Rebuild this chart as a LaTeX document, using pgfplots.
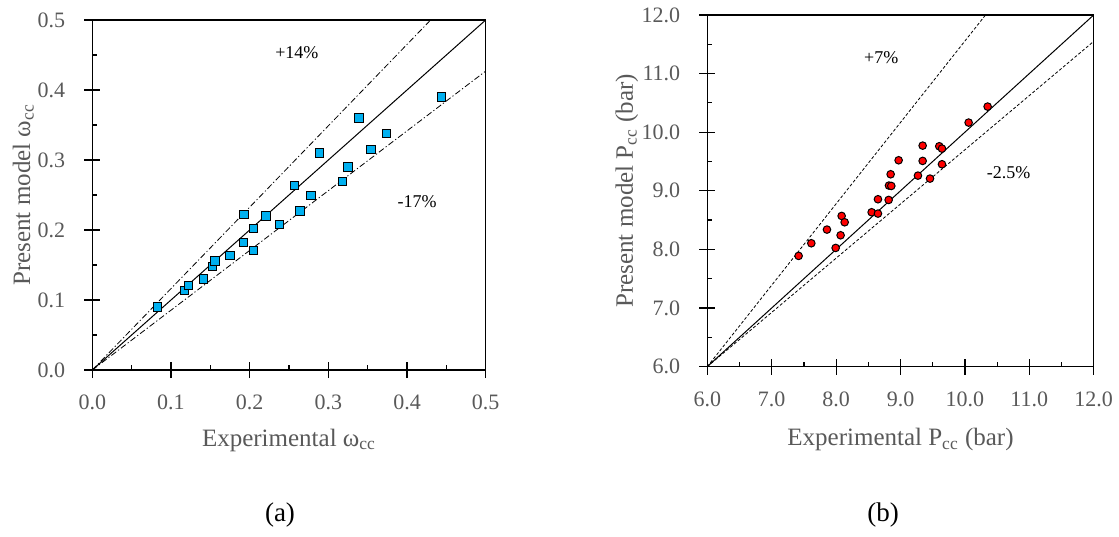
\documentclass[border=0pt]{standalone}
\usepackage{fontspec}
\setmainfont{Liberation Serif}
\usepackage{pgfplots}
\pgfplotsset{compat=1.18}
\definecolor{tickgray}{HTML}{595959}
\definecolor{sqblue}{HTML}{00B0F0}
\pgfplotsset{
  myaxis/.style={
    scale only axis,
    axis line style={line width=0.6pt},
    tick pos=left,
    tick align=center,
    major tick length=8pt,
    minor tick length=2.5pt,
    minor x tick style={yshift=1.25pt},
    minor y tick style={xshift=1.25pt},
    every tick/.style={black, line width=0.6pt},
    minor x tick num=1, minor y tick num=1,
    ticklabel style={font=\fontsize{11}{13}\selectfont, text=tickgray},
    xticklabel style={yshift=-5pt},
    yticklabel style={xshift=-6pt},
    /pgf/number format/.cd, fixed, fixed zerofill, precision=1, assume math mode=true,
    /pgfplots/.cd,
    label style={font=\fontsize{12.5}{14}\selectfont, text=tickgray},
    clip=false,
  }
}
\begin{document}
\begin{tikzpicture}
\path[use as bounding box] (0,0) rectangle (559.5pt,268pt);
% ---------------- (a)
\begin{axis}[myaxis,
  at={(46.15pt,83pt)}, anchor=south west,
  width=196.7pt, height=175pt,
  xmin=0, xmax=0.5, ymin=0, ymax=0.5,
  xtick={0,0.1,...,0.5}, ytick={0,0.1,...,0.5},
  xlabel={Experimental ω\textsubscript{cc}},
  ylabel={Present model ω\textsubscript{cc}},
  xlabel style={at={(axis description cs:0.5,-0.2)}, anchor=center},
  ylabel style={at={(axis description cs:-0.1754,0.5)}, anchor=center},
]
\addplot[black, line width=0.5pt] coordinates {(0,0) (0.5,0.5)};
\addplot[black, line width=0.4pt, dash pattern=on 3pt off 1.2pt on 0.6pt off 1.2pt] coordinates {(0,0) (0.43,0.5)};
\addplot[black, line width=0.4pt, dash pattern=on 3pt off 1.2pt on 0.6pt off 1.2pt] coordinates {(0,0) (0.5,0.427)};
\addplot[only marks, mark=square*, mark size=2.1pt, mark options={fill=sqblue, draw=black, line width=0.5pt}] coordinates {
(0.083,0.090) (0.117,0.114) (0.122,0.121) (0.141,0.130) (0.153,0.148)
(0.156,0.156) (0.175,0.164) (0.192,0.182) (0.193,0.222) (0.205,0.171)
(0.205,0.202) (0.221,0.220) (0.238,0.208) (0.257,0.264) (0.264,0.227)
(0.278,0.249) (0.289,0.310) (0.318,0.269) (0.325,0.290) (0.339,0.360)
(0.354,0.315) (0.374,0.338) (0.444,0.390)
};
\node[font=\fontsize{9}{10}\selectfont] at (axis cs:0.26,0.454) {+14\%};
\node[font=\fontsize{9}{10}\selectfont] at (axis cs:0.413,0.24) {-17\%};
\end{axis}
% ---------------- (b)
\begin{axis}[myaxis,
  at={(353.65pt,84.7pt)}, anchor=south west,
  width=193.2pt, height=175.8pt,
  xmin=6, xmax=12, ymin=6, ymax=12,
  xtick={6,7,...,12}, ytick={6,7,...,12},
  xlabel={Experimental P\textsubscript{cc} (bar)},
  ylabel={Present model P\textsubscript{cc} (bar)},
  xlabel style={at={(axis description cs:0.5,-0.208)}, anchor=center},
  ylabel style={at={(axis description cs:-0.208,0.5)}, anchor=center},
]
\addplot[black, line width=0.5pt] coordinates {(6,6) (12,12)};
\addplot[black, line width=0.4pt, dash pattern=on 1.5pt off 1pt] coordinates {(6,6) (10.32,12)};
\addplot[black, line width=0.4pt, dash pattern=on 1.5pt off 1pt] coordinates {(6,6) (12,11.55)};
\addplot[only marks, mark=*, mark size=1.9pt, mark options={fill=red, draw=black, line width=0.5pt}] coordinates {
(7.418,7.889) (7.615,8.105) (7.858,8.338) (7.993,8.025) (8.070,8.241)
(8.086,8.571) (8.133,8.463) (8.552,8.634) (8.650,8.611) (8.650,8.856)
(8.816,8.844) (8.821,9.089) (8.857,9.083) (8.847,9.282) (8.971,9.521)
(9.271,9.259) (9.344,9.510) (9.344,9.771) (9.458,9.208) (9.602,9.760)
(9.644,9.720) (9.644,9.453) (10.058,10.164) (10.353,10.437)
};
\node[font=\fontsize{9}{10}\selectfont] at (axis cs:8.70,11.27) {+7\%};
\node[font=\fontsize{9}{10}\selectfont] at (axis cs:10.68,9.31) {-2.5\%};
\end{axis}
\node[font=\fontsize{13.5}{15}\selectfont] at (140pt,10.5pt) {(a)};
\node[font=\fontsize{13.5}{15}\selectfont] at (441.5pt,10.5pt) {(b)};
\end{tikzpicture}
\end{document}
